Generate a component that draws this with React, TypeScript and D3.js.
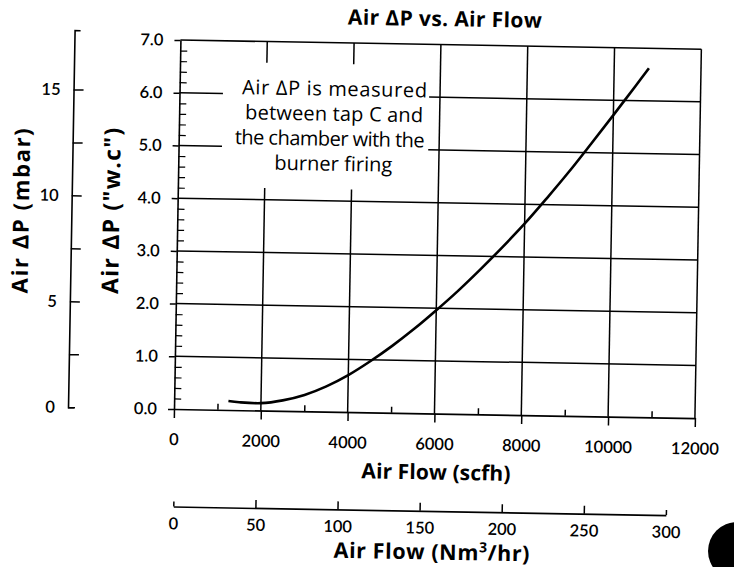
import React, { useRef, useEffect } from 'react';
import * as d3 from 'd3';

// curve (scfh vs "w.c)
const flowScfh = [1250, 1500, 2000, 2500, 3000, 3500, 4000, 4500, 5000, 5500, 6000, 6500, 7000, 7500, 8000, 8500, 9000, 9500, 10000, 10500, 10800];
const airDpInWc = [0.17, 0.15, 0.14, 0.2, 0.31, 0.48, 0.7, 0.97, 1.27, 1.6, 1.96, 2.34, 2.75, 3.18, 3.63, 4.12, 4.63, 5.17, 5.72, 6.28, 6.62];

const scfhTicks = [0, 2000, 4000, 6000, 8000, 10000, 12000];
const scfhMinorTicks = [1000, 3000, 5000, 7000, 9000, 11000];
const inWcTicks = [0, 1, 2, 3, 4, 5, 6, 7];
const inWcMinorTicks = d3.range(0, 7, 0.2).filter(v => Math.abs(v - Math.round(v)) > 0.01);
const mbarTicks = [0, 5, 10, 15];
const mbarMinorTicks = [2.5, 7.5, 12.5];
const nm3Ticks = [0, 50, 100, 150, 200, 250, 300];
const noteLines = ['Air ΔP is measured', 'between tap C and', 'the chamber with the', 'burner firing'];
const noteWidths = [185, 178, 190, 118];

const MBAR_PER_INWC = 2.4884;
const SCFH_PER_NM3 = 37.9;
const TICK_FONT = 'Lato, "Open Sans", sans-serif';
const TEXT_FONT = '"Open Sans", Lato, sans-serif';

export default function App() {
  const svgRef = useRef<SVGSVGElement>(null);

  useEffect(() => {
    const width = 734;
    const height = 567;
    const svg = d3.select(svgRef.current).attr('width', width).attr('height', height);
    svg.selectAll('*').remove();
    svg.append('rect').attr('width', width).attr('height', height).attr('fill', '#fff');

    const x = d3.scaleLinear().domain([0, 12000]).range([174, 695]);
    const y = d3.scaleLinear().domain([0, 7]).range([409, 40]);

    // the scan is tilted about one degree clockwise
    const g = svg.append('g').attr('transform', `rotate(1, ${x(0)}, ${y(0)})`);

    // grid, with a gap left for the note
    const gapX = [1000, 5750];
    const gapY = [4.22, 6.6];
    const grid = g.append('g').attr('stroke', '#000').attr('stroke-width', 1.5);
    inWcTicks.filter(v => v > 0).forEach(v => {
      if (v === 5 || v === 6) {
        grid.append('line').attr('x1', x(0)).attr('x2', x(gapX[0])).attr('y1', y(v)).attr('y2', y(v));
        grid.append('line').attr('x1', x(gapX[1])).attr('x2', x(12000)).attr('y1', y(v)).attr('y2', y(v));
      } else {
        grid.append('line').attr('x1', x(0)).attr('x2', x(12000)).attr('y1', y(v)).attr('y2', y(v));
      }
    });
    scfhTicks.filter(v => v > 0).forEach(v => {
      if (v === 2000 || v === 4000) {
        grid.append('line').attr('x1', x(v)).attr('x2', x(v)).attr('y1', y(0)).attr('y2', y(gapY[0]));
        grid.append('line').attr('x1', x(v)).attr('x2', x(v)).attr('y1', y(gapY[1])).attr('y2', y(7));
      } else {
        grid.append('line').attr('x1', x(v)).attr('x2', x(v)).attr('y1', y(0)).attr('y2', y(7));
      }
    });

    const styleAxis = (sel: any) => {
      sel.selectAll('path').attr('stroke', '#000').attr('stroke-width', 1.6);
      sel.selectAll('line').attr('stroke', '#000').attr('stroke-width', 1.5);
      sel.selectAll('text').attr('fill', '#000').style('font-family', TICK_FONT)
        .style('font-size', '16.5px').style('font-weight', 600);
    };

    // main y axis ("w.c)
    const yAxis = g.append('g').attr('transform', `translate(${x(0)},0)`)
      .call(d3.axisLeft(y).tickValues(inWcTicks).tickSize(6).tickSizeOuter(0).tickPadding(11).tickFormat(d3.format('.1f')));
    styleAxis(yAxis);
    const yMinor = g.append('g').attr('transform', `translate(${x(0)},0)`)
      .call(d3.axisRight(y).tickValues(inWcMinorTicks).tickSize(7).tickFormat(() => ''));
    yMinor.select('.domain').remove();
    styleAxis(yMinor);
    yMinor.selectAll('line').attr('stroke-width', 1.2);

    // main x axis (scfh)
    const xAxis = g.append('g').attr('transform', `translate(0,${y(0)})`)
      .call(d3.axisBottom(x).tickValues(scfhTicks).tickSize(9).tickSizeOuter(0).tickPadding(15.5).tickFormat(d3.format('d')));
    styleAxis(xAxis);
    const xMinor = g.append('g').attr('transform', `translate(0,${y(0)})`)
      .call(d3.axisTop(x).tickValues(scfhMinorTicks).tickSize(6).tickFormat(() => ''));
    xMinor.select('.domain').remove();
    styleAxis(xMinor);

    // outer y axis (mbar)
    const mbarTop = 17.8;
    const mbar = d3.scaleLinear().domain([0, mbarTop]).range([y(0), y(mbarTop / MBAR_PER_INWC)]);
    const mbarAxis = g.append('g').attr('transform', 'translate(68,0)')
      .call(d3.axisLeft(mbar).tickValues(mbarTicks).tickSize(-10).tickSizeOuter(-6).tickPadding(13).tickFormat(d3.format('d')));
    styleAxis(mbarAxis);
    mbarAxis.selectAll('.tick line').filter((d: any) => d === 0).attr('x2', 7);
    const mbarMinor = g.append('g').attr('transform', 'translate(68,0)')
      .call(d3.axisLeft(mbar).tickValues(mbarMinorTicks).tickSize(-10).tickFormat(() => ''));
    mbarMinor.select('.domain').remove();
    styleAxis(mbarMinor);

    // second x axis (Nm3/hr)
    const nm3 = d3.scaleLinear().domain([0, 300]).range([x(0) + 1, x(300 * SCFH_PER_NM3)]);
    const nm3Axis = g.append('g').attr('transform', 'translate(0,506.5)')
      .call(d3.axisBottom(nm3).tickValues(nm3Ticks).tickSize(-8).tickSizeOuter(0).tickPadding(11).tickFormat(d3.format('d')));
    styleAxis(nm3Axis);
    nm3Axis.selectAll('.tick line').filter((d: any) => d === 0 || d === 300).attr('y2', -5);

    // curve
    const line = d3.line<number>()
      .x((d, i) => x(flowScfh[i]))
      .y(d => y(d))
      .curve(d3.curveCatmullRom);
    g.append('path').datum(airDpInWc).attr('d', line)
      .attr('fill', 'none').attr('stroke', '#000').attr('stroke-width', 2.6);

    // texts, stretched to the widths of the scan's Gill Sans
    const text = (tx: number, ty: number, s: string, size: number, weight: any, len: number, rot = 0) =>
      g.append('text')
        .attr('transform', `translate(${tx},${ty}) rotate(${rot})`)
        .attr('text-anchor', 'middle')
        .attr('textLength', len).attr('lengthAdjust', 'spacing')
        .style('font-family', TEXT_FONT).style('font-size', size + 'px').style('font-weight', weight)
        .attr('fill', '#000').text(s);

    text(438, 21.5, 'Air ΔP vs. Air Flow', 21, 700, 194);
    text(437, 475, 'Air Flow (scfh)', 21, 700, 149);
    const nm3Title = text(434, 555, 'Air Flow (Nm', 21.5, 700, 196);
    nm3Title.append('tspan').attr('dy', -8).style('font-size', '14px').text('3');
    nm3Title.append('tspan').attr('dy', 8).text('/hr)');
    text(116, 212, 'Air ΔP ("w.c")', 23, 700, 166, -90);
    text(25.5, 213.5, 'Air ΔP (mbar)', 22, 700, 165, -90);

    noteLines.forEach((s, i) => text(i === 2 ? 325 : 329, 93 + i * 25, s, 20, 400, noteWidths[i]));

    // hole punch at the page edge
    svg.append('circle').attr('cx', 737).attr('cy', 551).attr('r', 29).attr('fill', '#000');
  }, []);

  return (
    <div>
      <svg ref={svgRef} style={{ position: 'absolute', left: 0, top: 0 }}></svg>
    </div>
  );
}
